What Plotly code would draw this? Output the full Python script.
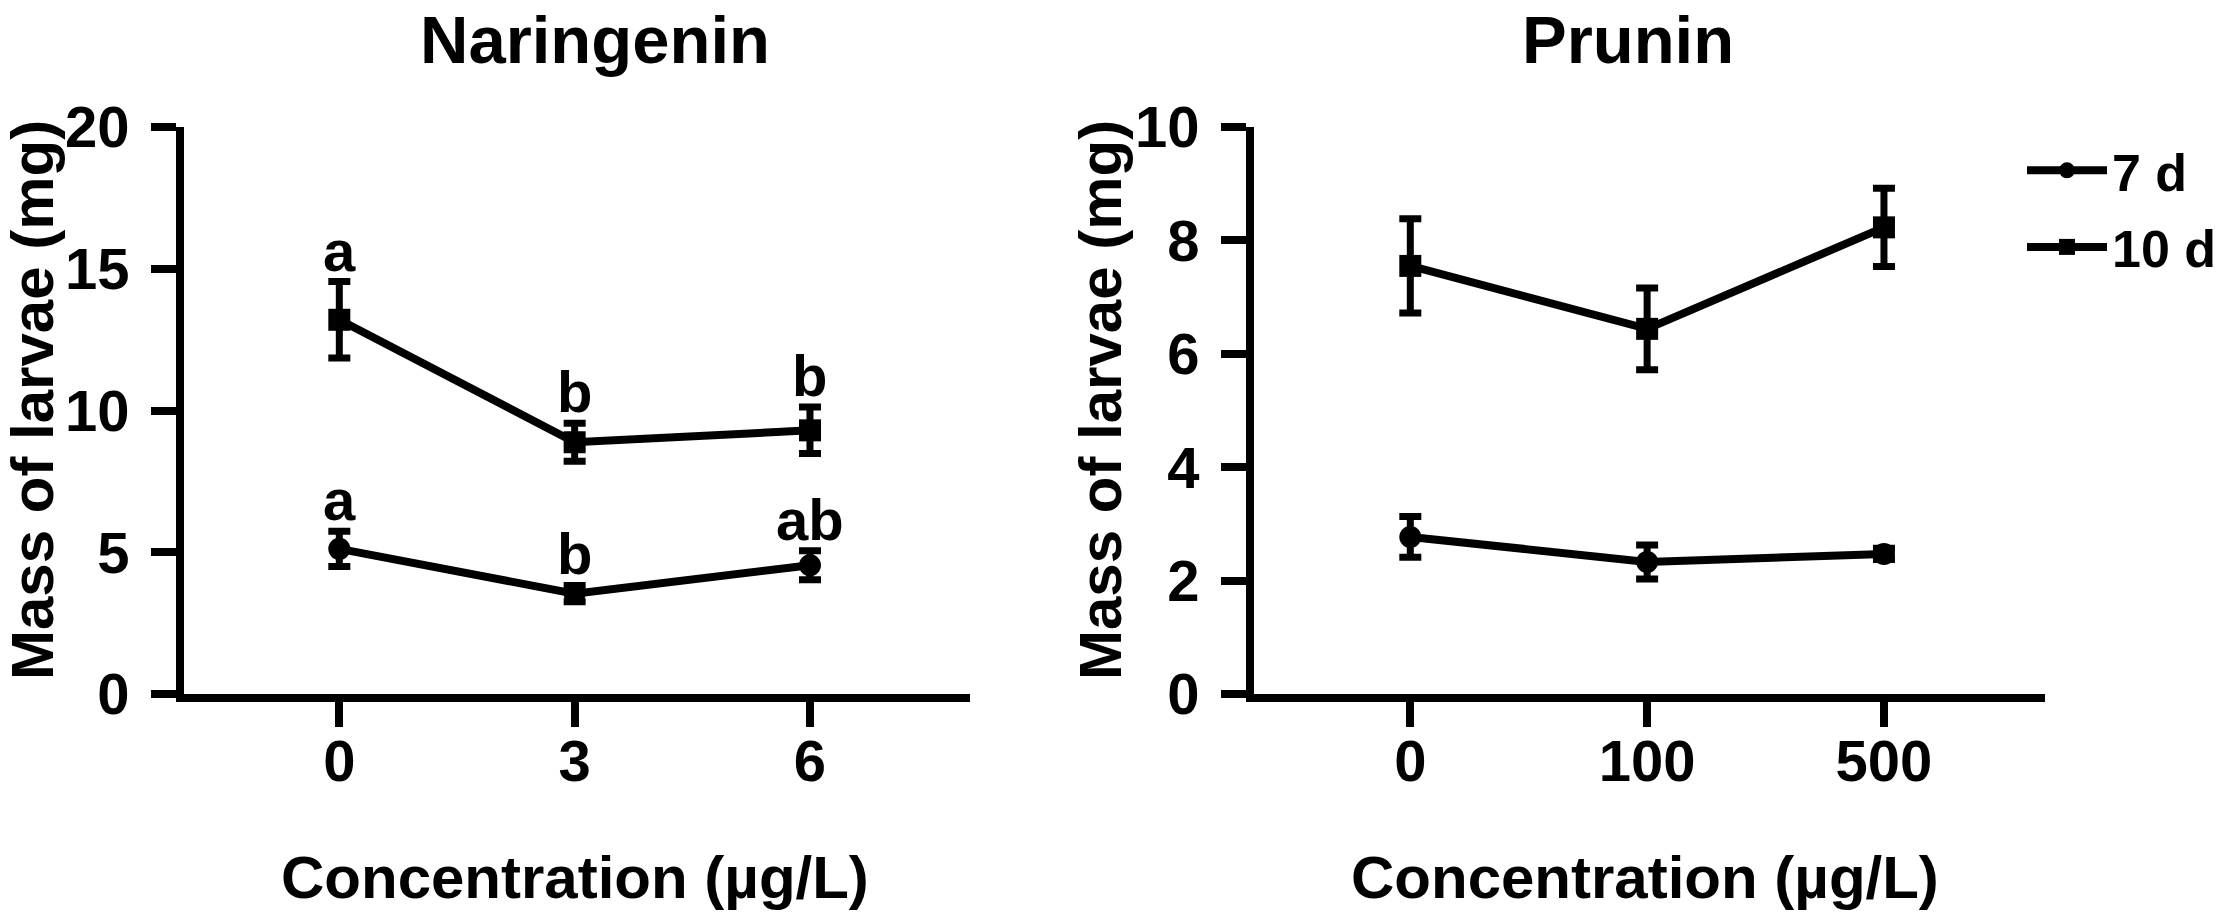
import plotly.graph_objects as go

# Naringenin panel
nar_conc = [0, 3, 6]
nar_ticks = ["0", "3", "6"]
nar_7d = [5.12, 3.54, 4.54]
nar_7d_err = [0.62, 0.29, 0.51]
nar_10d = [13.2, 8.88, 9.3]
nar_10d_err = [1.35, 0.67, 0.82]
nar_7d_letters = ["a", "b", "ab"]
nar_10d_letters = ["a", "b", "b"]

# Prunin panel
pru_conc = ["0", "100", "500"]
pru_7d = [2.77, 2.33, 2.47]
pru_7d_err = [0.36, 0.3, 0.1]
pru_10d = [7.55, 6.44, 8.23]
pru_10d_err = [0.83, 0.72, 0.69]

FONT = "Liberation Sans, Arial, Helvetica, sans-serif"
W, H = 2228, 922


def bold(size):
    return dict(family=FONT, size=size, color="black", weight="bold")


def series(x, y, err, symbol, name, xaxis, yaxis, show):
    return go.Scatter(
        x=x, y=y, mode="lines+markers", name=name,
        xaxis=xaxis, yaxis=yaxis, showlegend=show, legendgroup=name,
        line=dict(color="black", width=8),
        marker=dict(symbol=symbol, size=22, color="black"),
        error_y=dict(type="data", array=err, visible=True,
                     color="black", thickness=7, width=11),
    )


fig = go.Figure()
fig.add_trace(series(nar_conc, nar_7d, nar_7d_err, "circle", "7 d", "x", "y", False))
fig.add_trace(series(nar_conc, nar_10d, nar_10d_err, "square", "10 d", "x", "y", False))
fig.add_trace(series(pru_conc, pru_7d, pru_7d_err, "circle", "7 d", "x2", "y2", True))
fig.add_trace(series(pru_conc, pru_10d, pru_10d_err, "square", "10 d", "x2", "y2", True))

axis = dict(showline=True, linecolor="black", linewidth=8, ticks="outside",
            ticklen=25, tickwidth=8, tickcolor="black", showgrid=False,
            zeroline=False, tickfont=bold(58), fixedrange=True,
            automargin=False)

ydom = [1 - 694 / H, 1 - 127 / H]
fig.update_layout(
    width=W, height=H, autosize=False,
    margin=dict(l=0, r=0, t=0, b=0, pad=0),
    paper_bgcolor="white", plot_bgcolor="white",
    xaxis=dict(axis, domain=[184 / W, 970 / W], range=[-1.98, 8.04],
               tickvals=nar_conc, ticktext=nar_ticks, anchor="y",
               ticklabelstandoff=-16),
    yaxis=dict(axis, domain=ydom, range=[0, 20], tickvals=[0, 5, 10, 15, 20],
               anchor="x", ticklabelstandoff=10),
    xaxis2=dict(axis, domain=[1254 / W, 2045 / W], range=[-0.66, 2.68],
                type="category", anchor="y2", ticklabelstandoff=-16),
    yaxis2=dict(axis, domain=ydom, range=[0, 10], tickvals=[0, 2, 4, 6, 8, 10],
                anchor="x2", ticklabelstandoff=10),
    legend=dict(x=2022 / W, y=1 - 130 / H, xanchor="left", yanchor="top",
                font=bold(52), bgcolor="rgba(0,0,0,0)", tracegroupgap=6,
                itemwidth=80),
)

# panel titles
for txt, px in [("Naringenin", 595), ("Prunin", 1628)]:
    fig.add_annotation(text=txt, x=px / W, y=1, xref="paper", yref="paper",
                       xanchor="center", yanchor="top", showarrow=False,
                       font=bold(67))

# axis titles
texts = [
    ("Mass of larvae (mg)", 32, 400, 60, -90),
    ("Mass of larvae (mg)", 1100, 400, 60, -90),
    ("Concentration (µg/L)", 575, 877, 60, 0),
    ("Concentration (µg/L)", 1645, 877, 60, 0),
]
for txt, px, py, size, ang in texts:
    fig.add_annotation(text=txt, x=px / W, y=1 - py / H, xref="paper", yref="paper",
                       xanchor="center", yanchor="middle", showarrow=False,
                       textangle=ang, font=bold(size))

# significance letters above error bars
for ys, errs, letters in [(nar_10d, nar_10d_err, nar_10d_letters),
                          (nar_7d, nar_7d_err, nar_7d_letters)]:
    for xv, yv, ev, lab in zip(nar_conc, ys, errs, letters):
        fig.add_annotation(text=lab, x=xv, y=yv + ev, xref="x", yref="y",
                           xanchor="center", yanchor="bottom", yshift=-3,
                           showarrow=False, font=bold(58))

# drop the default page margin so the figure fills the window
fig.write_html("out.html", config={"displayModeBar": False},
               post_script="document.body.style.margin = '0';")
